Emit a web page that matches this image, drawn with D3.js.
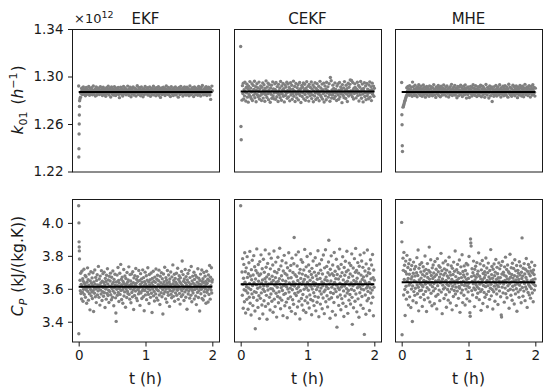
<!DOCTYPE html>
<html>
<head>
<meta charset="utf-8">
<script src="https://cdn.jsdelivr.net/npm/d3@7"></script>
<style>
  body { margin: 0; background: #fff; }
  svg { font-family: "DejaVu Sans", sans-serif; }
</style>
</head>
<body>
<svg id="chart" width="550" height="391"></svg>
<script>
// estimators, one column each
const methods = ["EKF", "CEKF", "MHE"];

// sample times (h): first regular sample and last one
const tFirst = 0.02, tLast = 2;
const xTicks = [0, 1, 2];

// k01 in units of 1e12 1/h -- start-up samples as [t, value]
const k01EkfStart = [[0, 1.2920], [0.002, 1.2322], [0.004, 1.2392], [0.006, 1.2516], [0.008, 1.2600], [0.010, 1.2676], [0.012, 1.2748], [0.014, 1.2796]];
const k01CekfStart = [[0, 1.3253], [0.004, 1.2579], [0.008, 1.2467]];
const k01MheStart = [[0, 1.2950], [0.003, 1.2678], [0.006, 1.2594], [0.009, 1.2417], [0.012, 1.2369]];

const k01Ekf = [
  1.2812, 1.2826, 1.2859, 1.2871, 1.2902, 1.2888, 1.2847, 1.2866, 1.2913, 1.2879, 1.2854, 1.2895, 1.2861, 1.2838, 1.2884, 1.2907, 1.2873, 1.2850, 1.2892, 1.2868,
  1.2881, 1.2916, 1.2863, 1.2842, 1.2877, 1.2899, 1.2858, 1.2870, 1.2905, 1.2885, 1.2846, 1.2864, 1.2920, 1.2876, 1.2853, 1.2889, 1.2872, 1.2836, 1.2897, 1.2911,
  1.2867, 1.2844, 1.2882, 1.2903, 1.2859, 1.2878, 1.2891, 1.2849, 1.2865, 1.2914, 1.2883, 1.2857, 1.2871, 1.2898, 1.2840, 1.2876, 1.2909, 1.2862, 1.2887, 1.2851,
  1.2894, 1.2874, 1.2833, 1.2869, 1.2906, 1.2880, 1.2855, 1.2890, 1.2918, 1.2863, 1.2845, 1.2879, 1.2900, 1.2868, 1.2827, 1.2885, 1.2912, 1.2873, 1.2852, 1.2896,
  1.2870, 1.2843, 1.2888, 1.2915, 1.2861, 1.2877, 1.2839, 1.2901, 1.2884, 1.2856, 1.2869, 1.2893, 1.2908, 1.2848, 1.2875, 1.2822, 1.2886, 1.2862, 1.2910, 1.2880,
  1.2851, 1.2897, 1.2873, 1.2836, 1.2889, 1.2917, 1.2866, 1.2854, 1.2882, 1.2904, 1.2871, 1.2846, 1.2892, 1.2860, 1.2878, 1.2919, 1.2857, 1.2883, 1.2841, 1.2895,
  1.2874, 1.2909, 1.2864, 1.2830, 1.2887, 1.2852, 1.2899, 1.2876, 1.2913, 1.2868, 1.2844, 1.2881, 1.2858, 1.2902, 1.2873, 1.2835, 1.2890, 1.2866, 1.2922, 1.2879,
  1.2849, 1.2885, 1.2907, 1.2861, 1.2877, 1.2894, 1.2838, 1.2870, 1.2911, 1.2855, 1.2884, 1.2867, 1.2829, 1.2898, 1.2875, 1.2847, 1.2888, 1.2916, 1.2863, 1.2880,
  1.2856, 1.2893, 1.2872, 1.2905, 1.2843, 1.2868, 1.2886, 1.2859, 1.2912, 1.2878, 1.2834, 1.2891, 1.2865, 1.2900, 1.2850, 1.2883, 1.2871, 1.2918, 1.2845, 1.2876,
  1.2897, 1.2862, 1.2881, 1.2837, 1.2906, 1.2873, 1.2853, 1.2889, 1.2868, 1.2914, 1.2842, 1.2879, 1.2895, 1.2858, 1.2824, 1.2885, 1.2903, 1.2866, 1.2848, 1.2892,
  1.2874, 1.2910, 1.2855, 1.2883, 1.2869, 1.2840, 1.2898, 1.2877, 1.2921, 1.2860, 1.2887, 1.2851, 1.2872, 1.2908, 1.2846, 1.2880, 1.2895, 1.2863, 1.2832, 1.2884,
  1.2915, 1.2870, 1.2857, 1.2893, 1.2878, 1.2839, 1.2904, 1.2866, 1.2886, 1.2852, 1.2911, 1.2875, 1.2844, 1.2890, 1.2861, 1.2899, 1.2873, 1.2826, 1.2882, 1.2907,
  1.2864, 1.2848, 1.2888, 1.2917, 1.2871, 1.2856, 1.2896, 1.2879, 1.2835, 1.2902, 1.2867, 1.2884, 1.2913, 1.2850, 1.2876, 1.2892, 1.2843, 1.2869, 1.2909, 1.2881,
  1.2854, 1.2898, 1.2874, 1.2838, 1.2886, 1.2920, 1.2862, 1.2880, 1.2847, 1.2893, 1.2871, 1.2906, 1.2858, 1.2877, 1.2831, 1.2889, 1.2912, 1.2865, 1.2883, 1.2849,
  1.2901, 1.2876, 1.2860, 1.2894, 1.2842, 1.2885, 1.2916, 1.2870, 1.2853, 1.2897, 1.2879, 1.2836, 1.2908, 1.2866, 1.2887, 1.2924, 1.2857, 1.2874, 1.2845, 1.2891,
  1.2868, 1.2903, 1.2882, 1.2851, 1.2914, 1.2875, 1.2839, 1.2896, 1.2863, 1.2888, 1.2910, 1.2859, 1.2878, 1.2844, 1.2899, 1.2807, 1.2885, 1.2872, 1.2919, 1.2880
];
const k01Cekf = [
  1.2801, 1.2923, 1.2856, 1.2944, 1.2812, 1.2889, 1.2837, 1.2951, 1.2871, 1.2794, 1.2908, 1.2863, 1.2935, 1.2826, 1.2897, 1.2784, 1.2918, 1.2849, 1.2880, 1.2957,
  1.2832, 1.2902, 1.2815, 1.2869, 1.2940, 1.2798, 1.2876, 1.2925, 1.2843, 1.2892, 1.2960, 1.2821, 1.2858, 1.2914, 1.2788, 1.2883, 1.2939, 1.2847, 1.2906, 1.2830,
  1.2874, 1.2953, 1.2810, 1.2895, 1.2839, 1.2921, 1.2866, 1.2797, 1.2909, 1.2852, 1.2946, 1.2818, 1.2884, 1.2930, 1.2861, 1.2792, 1.2900, 1.2845, 1.2963, 1.2877,
  1.2824, 1.2912, 1.2855, 1.2943, 1.2805, 1.2887, 1.2932, 1.2868, 1.2783, 1.2904, 1.2850, 1.2927, 1.2817, 1.2879, 1.2955, 1.2836, 1.2896, 1.2813, 1.2862, 1.2938,
  1.2891, 1.2808, 1.2949, 1.2872, 1.2829, 1.2915, 1.2859, 1.2790, 1.2934, 1.2881, 1.2846, 1.2903, 1.2822, 1.2958, 1.2866, 1.2800, 1.2920, 1.2853, 1.2886, 1.2941,
  1.2834, 1.2898, 1.2786, 1.2875, 1.2929, 1.2841, 1.2911, 1.2860, 1.2952, 1.2816, 1.2882, 1.2937, 1.2827, 1.2870, 1.2907, 1.2795, 1.2890, 1.2948, 1.2844, 1.2865,
  1.2926, 1.2809, 1.2893, 1.2857, 1.2961, 1.2833, 1.2878, 1.2916, 1.2789, 1.2873, 1.2942, 1.2851, 1.2819, 1.2905, 1.2867, 1.2931, 1.2803, 1.2884, 1.2854, 1.2950,
  1.2840, 1.2897, 1.2781, 1.2869, 1.2924, 1.2831, 1.2910, 1.2863, 1.2946, 1.2812, 1.2888, 1.2935, 1.2848, 1.2799, 1.2901, 1.2876, 1.2956, 1.2825, 1.2880, 1.2917,
  1.2858, 1.2793, 1.2933, 1.2871, 1.2838, 1.2908, 1.2864, 1.2954, 1.2814, 1.2894, 1.2845, 1.2928, 1.2787, 1.2879, 1.2912, 1.2835, 1.2947, 1.2861, 1.2806, 1.2899,
  1.2873, 1.2940, 1.2820, 1.2885, 1.2852, 1.2918, 1.2796, 1.2867, 1.2959, 1.2842, 1.2903, 1.2828, 1.2878, 1.2936, 1.2811, 1.2889, 1.2856, 1.2944, 1.2785, 1.2870,
  1.2921, 1.2837, 1.2896, 1.2804, 1.2952, 1.2862, 1.2881, 1.2913, 1.2826, 1.2874, 1.2939, 1.2849, 1.2791, 1.2992, 1.2868, 1.2964, 1.2818, 1.2887, 1.2843, 1.2927,
  1.2859, 1.2900, 1.2815, 1.2877, 1.2945, 1.2833, 1.2892, 1.2860, 1.2798, 1.2919, 1.2872, 1.2937, 1.2846, 1.2808, 1.2884, 1.2950, 1.2827, 1.2866, 1.2911, 1.2855,
  1.2893, 1.2780, 1.2932, 1.2870, 1.2841, 1.2904, 1.2822, 1.2957, 1.2864, 1.2883, 1.2815, 1.2926, 1.2853, 1.2898, 1.2789, 1.2875, 1.2943, 1.2836, 1.2909, 1.2861,
  1.2934, 1.2971, 1.2879, 1.2848, 1.2966, 1.2867, 1.2829, 1.2949, 1.2886, 1.2810, 1.2902, 1.2857, 1.2938, 1.2907, 1.2874, 1.2820, 1.2896, 1.2863, 1.2951, 1.2839,
  1.2881, 1.2925, 1.2794, 1.2868, 1.2910, 1.2845, 1.2958, 1.2873, 1.2817, 1.2890, 1.2936, 1.2852, 1.2786, 1.2899, 1.2877, 1.2947, 1.2831, 1.2862, 1.2920, 1.2805,
  1.2870, 1.2942, 1.2838, 1.2894, 1.2859, 1.2813, 1.2928, 1.2882, 1.2955, 1.2825, 1.2866, 1.2914, 1.2797, 1.2888, 1.2944, 1.2850, 1.2876, 1.2919, 1.2833, 1.2901
];
const k01Mhe = [
  1.2742, 1.2751, 1.2763, 1.2776, 1.2789, 1.2801, 1.2812, 1.2824, 1.2836, 1.2905, 1.2848, 1.2881, 1.2917, 1.2858, 1.2896, 1.2842, 1.2922, 1.2870, 1.2887, 1.2851,
  1.2909, 1.2866, 1.2833, 1.2953, 1.2878, 1.2915, 1.2856, 1.2893, 1.2839, 1.2926, 1.2872, 1.2847, 1.2900, 1.2884, 1.2829, 1.2911, 1.2863, 1.2891, 1.2931, 1.2852,
  1.2876, 1.2905, 1.2841, 1.2889, 1.2919, 1.2860, 1.2834, 1.2897, 1.2873, 1.2928, 1.2849, 1.2882, 1.2910, 1.2855, 1.2826, 1.2894, 1.2868, 1.2916, 1.2844, 1.2880,
  1.2903, 1.2862, 1.2887, 1.2833, 1.2921, 1.2871, 1.2850, 1.2898, 1.2914, 1.2857, 1.2879, 1.2838, 1.2906, 1.2866, 1.2932, 1.2885, 1.2845, 1.2892, 1.2870, 1.2824,
  1.2912, 1.2876, 1.2853, 1.2899, 1.2861, 1.2924, 1.2840, 1.2883, 1.2908, 1.2869, 1.2830, 1.2895, 1.2918, 1.2858, 1.2877, 1.2843, 1.2902, 1.2886, 1.2929, 1.2864,
  1.2848, 1.2890, 1.2873, 1.2911, 1.2835, 1.2881, 1.2920, 1.2859, 1.2896, 1.2867, 1.2827, 1.2904, 1.2875, 1.2846, 1.2915, 1.2888, 1.2856, 1.2934, 1.2871, 1.2839,
  1.2897, 1.2865, 1.2909, 1.2882, 1.2851, 1.2925, 1.2843, 1.2878, 1.2900, 1.2860, 1.2821, 1.2893, 1.2916, 1.2868, 1.2837, 1.2886, 1.2912, 1.2854, 1.2880, 1.2927,
  1.2849, 1.2874, 1.2906, 1.2832, 1.2891, 1.2863, 1.2919, 1.2877, 1.2845, 1.2899, 1.2928, 1.2857, 1.2884, 1.2818, 1.2903, 1.2870, 1.2846, 1.2913, 1.2862, 1.2889,
  1.2823, 1.2895, 1.2872, 1.2917, 1.2855, 1.2883, 1.2836, 1.2907, 1.2866, 1.2930, 1.2850, 1.2879, 1.2901, 1.2841, 1.2887, 1.2922, 1.2860, 1.2875, 1.2831, 1.2898,
  1.2869, 1.2914, 1.2853, 1.2885, 1.2840, 1.2910, 1.2876, 1.2926, 1.2862, 1.2829, 1.2894, 1.2871, 1.2918, 1.2847, 1.2883, 1.2905, 1.2858, 1.2825, 1.2890, 1.2867,
  1.2933, 1.2852, 1.2881, 1.2844, 1.2908, 1.2873, 1.2897, 1.2819, 1.2864, 1.2921, 1.2886, 1.2838, 1.2902, 1.2869, 1.2911, 1.2790, 1.2854, 1.2892, 1.2876, 1.2834,
  1.2915, 1.2863, 1.2888, 1.2849, 1.2924, 1.2877, 1.2835, 1.2899, 1.2860, 1.2912, 1.2882, 1.2845, 1.2870, 1.2930, 1.2856, 1.2893, 1.2828, 1.2906, 1.2874, 1.2851,
  1.2884, 1.2919, 1.2866, 1.2837, 1.2901, 1.2878, 1.2923, 1.2853, 1.2889, 1.2842, 1.2913, 1.2871, 1.2896, 1.2826, 1.2880, 1.2935, 1.2859, 1.2876, 1.2909, 1.2847,
  1.2870, 1.2904, 1.2833, 1.2892, 1.2861, 1.2927, 1.2850, 1.2883, 1.2916, 1.2868, 1.2838, 1.2898, 1.2874, 1.2920, 1.2855, 1.2887, 1.2822, 1.2910, 1.2865, 1.2894,
  1.2843, 1.2881, 1.2925, 1.2858, 1.2907, 1.2872, 1.2836, 1.2895, 1.2918, 1.2852, 1.2886, 1.2830, 1.2903, 1.2867, 1.2934, 1.2879, 1.2848, 1.2900, 1.2863, 1.2913,
  1.2885, 1.2839, 1.2906, 1.2871, 1.2922, 1.2857, 1.2891, 1.2827, 1.2877, 1.2916, 1.2861, 1.2897, 1.2844, 1.2931, 1.2882, 1.2854, 1.2908, 1.2868, 1.2835, 1.2902
];
const k01Mean = [1.2870, 1.2873, 1.2869];
const k01Ticks = [1.22, 1.26, 1.30, 1.34];

// Cp in kJ/(kg.K) -- start-up samples as [t, value]
const cpEkfStart = [[0, 4.104], [0.002, 3.327], [0.004, 4.000], [0.006, 3.885], [0.008, 3.854], [0.010, 3.830], [0.012, 3.781]];
const cpCekfStart = [[0, 4.104]];
const cpMheStart = [[0, 4.003], [0.003, 3.885], [0.006, 3.321]];

const cpEkf = [
  3.652, 3.588, 3.694, 3.571, 3.627, 3.538, 3.706, 3.613, 3.579, 3.661, 3.524, 3.645, 3.597, 3.719, 3.566, 3.632, 3.603, 3.681, 3.549, 3.618,
  3.673, 3.592, 3.512, 3.640, 3.607, 3.727, 3.584, 3.655, 3.531, 3.621, 3.689, 3.570, 3.611, 3.472, 3.648, 3.596, 3.703, 3.557, 3.634, 3.580,
  3.666, 3.541, 3.619, 3.697, 3.589, 3.462, 3.642, 3.604, 3.573, 3.714, 3.628, 3.552, 3.669, 3.599, 3.516, 3.651, 3.610, 3.685, 3.563, 3.624,
  3.587, 3.736, 3.605, 3.548, 3.659, 3.620, 3.501, 3.677, 3.593, 3.635, 3.568, 3.710, 3.614, 3.529, 3.646, 3.582, 3.692, 3.608, 3.555, 3.638,
  3.701, 3.576, 3.623, 3.486, 3.663, 3.598, 3.644, 3.537, 3.682, 3.609, 3.571, 3.722, 3.630, 3.559, 3.654, 3.591, 3.517, 3.676, 3.616, 3.583,
  3.647, 3.695, 3.564, 3.612, 3.533, 3.670, 3.601, 3.629, 3.549, 3.708, 3.586, 3.639, 3.497, 3.657, 3.606, 3.574, 3.688, 3.622, 3.545, 3.453,
  3.402, 3.641, 3.597, 3.683, 3.561, 3.618, 3.729, 3.578, 3.650, 3.523, 3.636, 3.602, 3.694, 3.566, 3.617, 3.748, 3.589, 3.658, 3.535, 3.625,
  3.671, 3.594, 3.512, 3.644, 3.607, 3.717, 3.556, 3.631, 3.581, 3.678, 3.613, 3.488, 3.662, 3.598, 3.626, 3.547, 3.699, 3.585, 3.640, 3.571,
  3.654, 3.609, 3.733, 3.566, 3.620, 3.537, 3.686, 3.600, 3.648, 3.515, 3.629, 3.690, 3.577, 3.615, 3.551, 3.704, 3.592, 3.637, 3.474, 3.666,
  3.603, 3.559, 3.680, 3.621, 3.586, 3.723, 3.633, 3.543, 3.657, 3.611, 3.528, 3.674, 3.596, 3.645, 3.569, 3.711, 3.605, 3.582, 3.651, 3.499,
  3.627, 3.692, 3.574, 3.613, 3.660, 3.541, 3.638, 3.588, 3.715, 3.599, 3.552, 3.668, 3.619, 3.467, 3.643, 3.590, 3.701, 3.563, 3.630, 3.606,
  3.679, 3.534, 3.616, 3.652, 3.580, 3.728, 3.601, 3.566, 3.641, 3.511, 3.687, 3.624, 3.592, 3.655, 3.548, 3.610, 3.696, 3.573, 3.635, 3.456,
  3.663, 3.598, 3.620, 3.706, 3.557, 3.646, 3.584, 3.526, 3.671, 3.612, 3.639, 3.569, 3.720, 3.602, 3.545, 3.658, 3.594, 3.682, 3.531, 3.625,
  3.588, 3.649, 3.713, 3.562, 3.618, 3.505, 3.676, 3.607, 3.637, 3.576, 3.698, 3.614, 3.552, 3.661, 3.595, 3.447, 3.628, 3.690, 3.570, 3.643,
  3.606, 3.731, 3.583, 3.622, 3.539, 3.667, 3.599, 3.652, 3.518, 3.634, 3.711, 3.578, 3.617, 3.560, 3.684, 3.603, 3.641, 3.493, 3.659, 3.590,
  3.626, 3.702, 3.567, 3.613, 3.546, 3.672, 3.608, 3.585, 3.745, 3.631, 3.554, 3.650, 3.597, 3.688, 3.524, 3.619, 3.663, 3.575, 3.640, 3.609,
  3.694, 3.561, 3.628, 3.591, 3.725, 3.604, 3.536, 3.656, 3.615, 3.679, 3.572, 3.643, 3.507, 3.667, 3.598, 3.632, 3.553, 3.705, 3.587, 3.769,
  3.620, 3.564, 3.686, 3.601, 3.646, 3.529, 3.660, 3.611, 3.581, 3.717, 3.636, 3.549, 3.674, 3.594, 3.622, 3.476, 3.653, 3.605, 3.693, 3.568,
  3.639, 3.586, 3.712, 3.614, 3.543, 3.668, 3.599, 3.628, 3.560, 3.735, 3.607, 3.521, 3.648, 3.590, 3.677, 3.574, 3.633, 3.610, 3.700, 3.538,
  3.657, 3.595, 3.623, 3.682, 3.556, 3.615, 3.504, 3.671, 3.602, 3.640, 3.578, 3.722, 3.618, 3.547, 3.664, 3.589, 3.630, 3.465, 3.651, 3.606,
  3.689, 3.570, 3.625, 3.597, 3.714, 3.541, 3.644, 3.608, 3.661, 3.532, 3.636, 3.699, 3.582, 3.616, 3.557, 3.676, 3.600, 3.645, 3.512, 3.627,
  3.706, 3.579, 3.634, 3.593, 3.658, 3.520, 3.684, 3.611, 3.565, 3.649, 3.741, 3.603, 3.537, 3.670, 3.619, 3.592, 3.728, 3.574, 3.641, 3.655
];
const cpCekf = [
  3.702, 3.561, 3.783, 3.627, 3.482, 3.664, 3.748, 3.594, 3.521, 3.819, 3.640, 3.703, 3.453, 3.588, 3.727, 3.612, 3.536, 3.795, 3.669, 3.574,
  3.476, 3.691, 3.605, 3.758, 3.549, 3.632, 3.827, 3.512, 3.678, 3.596, 3.441, 3.716, 3.655, 3.569, 3.773, 3.620, 3.498, 3.684, 3.547, 3.801,
  3.637, 3.583, 3.734, 3.465, 3.357, 3.659, 3.711, 3.578, 3.624, 3.842, 3.530, 3.696, 3.603, 3.487, 3.747, 3.646, 3.558, 3.681, 3.419, 3.765,
  3.611, 3.542, 3.690, 3.806, 3.575, 3.634, 3.502, 3.722, 3.653, 3.447, 3.597, 3.779, 3.618, 3.527, 3.700, 3.584, 3.661, 3.836, 3.493, 3.642,
  3.731, 3.560, 3.672, 3.415, 3.616, 3.754, 3.593, 3.509, 3.687, 3.630, 3.812, 3.548, 3.660, 3.471, 3.721, 3.601, 3.568, 3.786, 3.638, 3.524,
  3.676, 3.599, 3.744, 3.458, 3.650, 3.587, 3.829, 3.537, 3.705, 3.621, 3.492, 3.668, 3.762, 3.573, 3.639, 3.428, 3.697, 3.609, 3.553, 3.791,
  3.645, 3.515, 3.717, 3.582, 3.661, 3.846, 3.544, 3.628, 3.479, 3.739, 3.606, 3.679, 3.531, 3.770, 3.590, 3.652, 3.437, 3.708, 3.619, 3.566,
  3.803, 3.625, 3.497, 3.693, 3.572, 3.646, 3.757, 3.519, 3.613, 3.684, 3.424, 3.728, 3.598, 3.540, 3.665, 3.819, 3.580, 3.636, 3.485, 3.710,
  3.604, 3.551, 3.742, 3.667, 3.463, 3.622, 3.786, 3.594, 3.533, 3.699, 3.641, 3.506, 3.752, 3.911, 3.617, 3.571, 3.685, 3.448, 3.630, 3.806,
  3.559, 3.675, 3.601, 3.738, 3.489, 3.650, 3.579, 3.824, 3.612, 3.525, 3.696, 3.634, 3.417, 3.718, 3.588, 3.663, 3.776, 3.541, 3.627, 3.502,
  3.689, 3.761, 3.565, 3.643, 3.470, 3.714, 3.597, 3.657, 3.839, 3.528, 3.620, 3.681, 3.456, 3.733, 3.606, 3.550, 3.796, 3.638, 3.514, 3.672,
  3.591, 3.745, 3.623, 3.483, 3.706, 3.563, 3.652, 3.813, 3.535, 3.615, 3.687, 3.442, 3.724, 3.599, 3.668, 3.527, 3.769, 3.640, 3.576, 3.498,
  3.701, 3.620, 3.554, 3.788, 3.633, 3.466, 3.679, 3.595, 3.742, 3.518, 3.658, 3.611, 3.831, 3.549, 3.694, 3.430, 3.625, 3.751, 3.586, 3.662,
  3.507, 3.713, 3.604, 3.568, 3.776, 3.641, 3.479, 3.690, 3.618, 3.544, 3.805, 3.632, 3.582, 3.449, 3.727, 3.655, 3.593, 3.837, 3.521, 3.671,
  3.614, 3.736, 3.558, 3.649, 3.490, 3.697, 3.602, 3.763, 3.895, 3.537, 3.629, 3.684, 3.421, 3.719, 3.577, 3.647, 3.800, 3.546, 3.610, 3.692,
  3.463, 3.744, 3.626, 3.571, 3.681, 3.517, 3.820, 3.639, 3.598, 3.706, 3.441, 3.661, 3.583, 3.779, 3.622, 3.367, 3.687, 3.550, 3.734, 3.607,
  3.659, 3.499, 3.721, 3.596, 3.841, 3.634, 3.562, 3.676, 3.473, 3.748, 3.611, 3.540, 3.698, 3.625, 3.794, 3.512, 3.654, 3.587, 3.432, 3.729,
  3.617, 3.682, 3.556, 3.767, 3.638, 3.493, 3.703, 3.601, 3.828, 3.574, 3.646, 3.451, 3.713, 3.590, 3.669, 3.531, 3.756, 3.623, 3.565, 3.690,
  3.508, 3.741, 3.636, 3.597, 3.812, 3.548, 3.384, 3.677, 3.618, 3.726, 3.485, 3.651, 3.589, 3.783, 3.629, 3.524, 3.700, 3.845, 3.568, 3.643,
  3.711, 3.460, 3.664, 3.606, 3.759, 3.539, 3.628, 3.695, 3.427, 3.737, 3.613, 3.576, 3.806, 3.641, 3.501, 3.683, 3.599, 3.769, 3.553, 3.657,
  3.622, 3.730, 3.481, 3.672, 3.594, 3.818, 3.323, 3.648, 3.708, 3.562, 3.635, 3.445, 3.751, 3.604, 3.679, 3.527, 3.835, 3.615, 3.584, 3.698,
  3.541, 3.722, 3.639, 3.468, 3.693, 3.605, 3.776, 3.574, 3.660, 3.513, 3.744, 3.627, 3.592, 3.808, 3.549, 3.668, 3.436, 3.714, 3.609, 3.653
];
const cpMhe = [
  3.786, 3.712, 3.562, 3.821, 3.657, 3.743, 3.596, 3.438, 3.704, 3.768, 3.615, 3.537, 3.690, 3.803, 3.648, 3.579, 3.729, 3.663, 3.501, 3.752,
  3.622, 3.688, 3.551, 3.776, 3.634, 3.716, 3.486, 3.659, 3.598, 3.741, 3.673, 3.401, 3.617, 3.527, 3.694, 3.762, 3.583, 3.649, 3.720, 3.560,
  3.678, 3.603, 3.736, 3.642, 3.515, 3.697, 3.789, 3.623, 3.570, 3.681, 3.835, 3.609, 3.466, 3.725, 3.654, 3.588, 3.747, 3.630, 3.548, 3.702,
  3.665, 3.591, 3.758, 3.621, 3.493, 3.686, 3.612, 3.734, 3.566, 3.651, 3.708, 3.533, 3.677, 3.799, 3.628, 3.584, 3.718, 3.645, 3.462, 3.692,
  3.606, 3.753, 3.669, 3.545, 3.637, 3.712, 3.594, 3.853, 3.658, 3.520, 3.700, 3.624, 3.776, 3.573, 3.681, 3.639, 3.497, 3.727, 3.613, 3.662,
  3.744, 3.587, 3.696, 3.632, 3.509, 3.674, 3.766, 3.601, 3.647, 3.555, 3.719, 3.685, 3.478, 3.641, 3.783, 3.619, 3.566, 3.703, 3.654, 3.740,
  3.592, 3.671, 3.528, 3.730, 3.636, 3.689, 3.815, 3.580, 3.648, 3.710, 3.449, 3.660, 3.622, 3.757, 3.599, 3.684, 3.541, 3.721, 3.643, 3.607,
  3.695, 3.769, 3.564, 3.650, 3.488, 3.713, 3.627, 3.678, 3.596, 3.746, 3.531, 3.666, 3.619, 3.792, 3.581, 3.701, 3.641, 3.514, 3.683, 3.634,
  3.738, 3.598, 3.657, 3.472, 3.724, 3.615, 3.687, 3.553, 3.762, 3.645, 3.590, 3.706, 3.629, 3.829, 3.568, 3.674, 3.610, 3.498, 3.716, 3.652,
  3.586, 3.748, 3.637, 3.699, 3.542, 3.663, 3.614, 3.775, 3.603, 3.457, 3.692, 3.640, 3.733, 3.575, 3.668, 3.625, 3.807, 3.592, 3.516, 3.705,
  3.646, 3.684, 3.561, 3.739, 3.620, 3.671, 3.502, 3.711, 3.633, 3.598, 3.754, 3.657, 3.539, 3.690, 3.617, 3.745, 3.581, 3.662, 3.634, 3.796,
  3.608, 3.525, 3.455, 3.433, 3.902, 3.878, 3.859, 3.674, 3.589, 3.722, 3.645, 3.563, 3.697, 3.631, 3.768, 3.605, 3.680, 3.492, 3.718, 3.653,
  3.594, 3.737, 3.626, 3.670, 3.547, 3.759, 3.612, 3.688, 3.573, 3.707, 3.642, 3.818, 3.601, 3.534, 3.676, 3.628, 3.751, 3.583, 3.660, 3.469,
  3.715, 3.638, 3.595, 3.772, 3.655, 3.511, 3.693, 3.620, 3.740, 3.578, 3.667, 3.703, 3.549, 3.684, 3.613, 3.787, 3.637, 3.566, 3.726, 3.650,
  3.491, 3.698, 3.619, 3.756, 3.584, 3.672, 3.641, 3.536, 3.711, 3.659, 3.603, 3.838, 3.627, 3.557, 3.686, 3.735, 3.596, 3.664, 3.477, 3.719,
  3.643, 3.582, 3.750, 3.616, 3.679, 3.524, 3.701, 3.635, 3.778, 3.599, 3.656, 3.568, 3.730, 3.622, 3.691, 3.505, 3.667, 3.613, 3.757, 3.648,
  3.587, 3.721, 3.634, 3.668, 3.552, 3.742, 3.441, 3.428, 3.689, 3.610, 3.766, 3.644, 3.575, 3.700, 3.629, 3.684, 3.519, 3.733, 3.651, 3.604,
  3.792, 3.570, 3.676, 3.639, 3.717, 3.546, 3.660, 3.744, 3.618, 3.589, 3.703, 3.658, 3.482, 3.694, 3.631, 3.810, 3.597, 3.670, 3.561, 3.728,
  3.642, 3.687, 3.530, 3.755, 3.615, 3.665, 3.592, 3.723, 3.647, 3.508, 3.680, 3.776, 3.623, 3.569, 3.709, 3.654, 3.600, 3.741, 3.464, 3.673,
  3.630, 3.712, 3.581, 3.695, 3.656, 3.548, 3.764, 3.621, 3.683, 3.594, 3.738, 3.639, 3.515, 3.700, 3.662, 3.909, 3.608, 3.677, 3.555, 3.725,
  3.645, 3.586, 3.753, 3.632, 3.690, 3.528, 3.719, 3.611, 3.669, 3.784, 3.598, 3.654, 3.487, 3.706, 3.640, 3.577, 3.747, 3.626, 3.692, 3.563,
  3.731, 3.614, 3.679, 3.543, 3.708, 3.649, 3.601, 3.762, 3.636, 3.574, 3.697, 3.655, 3.521, 3.714, 3.627, 3.686, 3.592, 3.741, 3.660, 3.619
];
const cpMean = [3.612, 3.627, 3.639];
const cpTicks = [3.4, 3.6, 3.8, 4.0];

// layout
const colLeft = [72, 234, 395];
const rowTop = [29, 199];
const panelW = 147, panelH = 142.5;
const dotColor = "#808080";
const ink = "#1a1a1a";

const rows = [
  { start: [k01EkfStart, k01CekfStart, k01MheStart], series: [k01Ekf, k01Cekf, k01Mhe],
    mean: k01Mean, domain: [1.22, 1.34], ticks: k01Ticks, fmt: d3.format(".2f"),
    label: [{ t: "k", i: true }, { t: "01", sub: true }, { t: " (", dx: 2 }, { t: "h", i: true }, { t: "\u22121", sup: true }, { t: ")", dx: 1 }],
    labelY: 100 },
  { start: [cpEkfStart, cpCekfStart, cpMheStart], series: [cpEkf, cpCekf, cpMhe],
    mean: cpMean, domain: [3.28, 4.145], ticks: cpTicks, fmt: d3.format(".1f"),
    label: [{ t: "C", i: true }, { t: "P", sub: true, i: true }, { t: " (kJ/(kg.K))", dx: 1 }],
    labelY: 266 }
];

const svg = d3.select("#chart");
const x = d3.scaleLinear().domain([-0.1, 2.1]).range([0, panelW]);

rows.forEach((row, r) => {
  const y = d3.scaleLinear().domain(row.domain).range([panelH, 0]);

  methods.forEach((m, c) => {
    const g = svg.append("g").attr("transform", `translate(${colLeft[c]},${rowTop[r]})`);
    const vals = row.series[c];
    const pts = row.start[c].map(d => ({ t: d[0], v: d[1] }))
      .concat(vals.map((v, i) => ({ t: tFirst + i * (tLast - tFirst) / (vals.length - 1), v: v })));

    g.selectAll("circle.dot")
      .data(pts)
      .join("circle")
        .attr("class", "dot")
        .attr("cx", d => x(d.t))
        .attr("cy", d => y(d.v))
        .attr("r", 1.7)
        .attr("fill", dotColor);

    // mean of the estimate
    g.append("line")
      .attr("x1", x(0)).attr("x2", x(2))
      .attr("y1", y(row.mean[c])).attr("y2", y(row.mean[c]))
      .attr("stroke", "#000")
      .attr("stroke-width", 2);

    g.append("rect")
      .attr("x", 0.5).attr("y", 0.5)
      .attr("width", panelW).attr("height", panelH)
      .attr("fill", "none")
      .attr("stroke", ink)
      .attr("stroke-width", 1);

    if (c === 0) {
      const ay = g.append("g")
        .call(d3.axisLeft(y).tickValues(row.ticks).tickFormat(row.fmt).tickSize(4.5).tickPadding(4));
      ay.select(".domain").remove();
      ay.attr("font-family", null).attr("font-size", null);
      ay.selectAll("text").attr("font-size", "13.5px").attr("fill", ink);
      ay.selectAll("line").attr("stroke", ink).attr("transform", "translate(0.5,0)");
    }

    if (r === 1) {
      const ax = g.append("g")
        .attr("transform", `translate(0,${panelH + 0.5})`)
        .call(d3.axisBottom(x).tickValues(xTicks).tickFormat(d3.format("d")).tickSize(4.5).tickPadding(4));
      ax.select(".domain").remove();
      ax.attr("font-family", null).attr("font-size", null);
      ax.selectAll("text").attr("font-size", "13.5px").attr("fill", ink);
      ax.selectAll("line").attr("stroke", ink);

      svg.append("text")
        .attr("x", colLeft[c] + panelW / 2)
        .attr("y", 384)
        .attr("text-anchor", "middle")
        .attr("font-size", "15.5px")
        .attr("fill", ink)
        .text("t (h)");
    }

    if (r === 0) {
      svg.append("text")
        .attr("x", colLeft[c] + panelW / 2)
        .attr("y", 23.5)
        .attr("text-anchor", "middle")
        .attr("font-size", "15px")
        .attr("fill", ink)
        .text(m);
    }
  });

  // y label, sub/superscripts via baseline shifts
  const lab = svg.append("text")
    .attr("transform", `translate(23,${row.labelY}) rotate(-90)`)
    .attr("text-anchor", "middle")
    .attr("font-size", "15.5px")
    .attr("fill", ink);
  let shift = 0;
  row.label.forEach(p => {
    const target = p.sub ? 3.5 : p.sup ? -6.5 : 0;
    const ts = lab.append("tspan").text(p.t).attr("dy", target - shift);
    shift = target;
    if (p.i) ts.attr("font-style", "italic");
    if (p.sub || p.sup) ts.attr("font-size", "11px");
    if (p.dx) ts.attr("dx", p.dx);
  });
});

// offset text for the k01 axis
const off = svg.append("text")
  .attr("x", 74)
  .attr("y", 23)
  .attr("font-size", "13px")
  .attr("fill", ink);
off.append("tspan").text("\u00d710");
off.append("tspan").attr("font-size", "9.5px").attr("dy", -5.5).text("12");
</script>
</body>
</html>
